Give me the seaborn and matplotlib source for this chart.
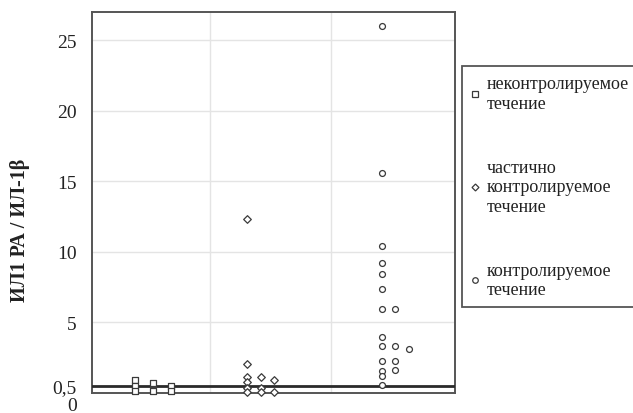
import matplotlib
matplotlib.use("Agg")
import matplotlib.pyplot as plt
import matplotlib.transforms as mtransforms
from matplotlib.lines import Line2D
import numpy as np
import pandas as pd
import seaborn as sns

# Course groups
groups = [
    "неконтролируемое\nтечение",
    "частично\nконтролируемое\nтечение",
    "контролируемое\nтечение",
]

# IL-1RA / IL-1beta ratios per group, split into side-by-side dot columns
uncontrolled_cols = [
    [0.92, 0.52, 0.17],
    [0.73, 0.17],
    [0.52, 0.17],
]
partial_cols = [
    [12.3, 2.05, 1.15, 0.75, 0.35, 0.05],
    [1.15, 0.35, 0.05],
    [0.92, 0.05],
]
controlled_cols = [
    [26.0, 15.6, 10.45, 9.2, 8.45, 7.35, 5.95, 3.95, 3.3, 2.25, 1.55, 1.2, 0.6],
    [5.95, 3.3, 2.25, 1.6],
    [3.1],
]

ytick_values = [0, 0.5, 5, 10, 15, 20, 25]
ytick_labels = ["0", "0,5", "5", "10", "15", "20", "25"]
threshold = 0.5

# layout
group_starts = [0.355, 1.285, 2.395]
group_steps = [0.149, 0.108, 0.111]
group_markers = {groups[0]: "s", groups[1]: "D", groups[2]: "o"}
group_sizes = {groups[0]: 20, groups[1]: 15, groups[2]: 18}

rows = []
for g, cols in zip(groups, [uncontrolled_cols, partial_cols, controlled_cols]):
    for ci, vals in enumerate(cols):
        for v in vals:
            rows.append({"group": g, "col": ci, "value": v})
df = pd.DataFrame(rows)
df["x"] = (df["group"].map(dict(zip(groups, group_starts)))
           + df["col"] * df["group"].map(dict(zip(groups, group_steps))))

sns.set_theme(style="white")
plt.rcParams["font.family"] = ["Liberation Serif", "DejaVu Serif"]

fig = plt.figure(figsize=(6.33, 4.14), dpi=100)
ax = fig.add_axes([92 / 633, 1 - 394 / 414, (455 - 92) / 633, (394 - 13) / 414])

ax.set_xlim(0, 3)
ax.set_ylim(0, 27)

edge = "#3a3a3a"
for g in groups:
    sub = df[df["group"] == g]
    sns.scatterplot(
        data=sub, x="x", y="value", marker=group_markers[g], s=group_sizes[g],
        facecolor="white", edgecolor=edge, linewidth=0.9, ax=ax, legend=False,
        zorder=4, clip_on=False,
    )

ax.axhline(threshold, color="#2a2a2a", lw=2.0, zorder=3)

# grid
ax.set_xticks([0.975, 1.975])
ax.set_xticklabels([])
ax.set_yticks(ytick_values)
ax.set_yticklabels(ytick_labels, fontsize=14)
ax.grid(True, color="#e4e4e4", lw=1.0)
ax.set_axisbelow(True)
ax.tick_params(axis="x", length=0)
ax.tick_params(axis="y", length=7, width=1, color="#9a9a9a", pad=4, labelcolor="#222222")
for val, t in zip(ytick_values, ax.yaxis.get_major_ticks()):
    if val != threshold:
        t.tick1line.set_visible(False)

# push the zero label below the baseline
zero_lbl = ax.yaxis.get_major_ticks()[0].label1
zero_lbl.set_transform(zero_lbl.get_transform()
                       + mtransforms.ScaledTranslation(0, -11 / 100, fig.dpi_scale_trans))

for s in ax.spines.values():
    s.set_color("#555555")
    s.set_linewidth(1.4)

ax.set_xlabel("")
ax.set_ylabel("ИЛ1 РА / ИЛ-1β", fontsize=14.5, fontweight="bold", color="#222222")
ax.yaxis.set_label_coords(-0.17, 0.43)

handles = [
    Line2D([], [], ls="none", marker=group_markers[g], markersize=ms,
           markerfacecolor="white", markeredgecolor=edge, markeredgewidth=0.9)
    for g, ms in zip(groups, [4, 3.5, 4])
]
leg = fig.legend(
    handles, groups, loc="upper left",
    bbox_to_anchor=(462 / 633, 1 - 67 / 414), bbox_transform=fig.transFigure,
    borderaxespad=0, frameon=True, fancybox=False, framealpha=1,
    edgecolor="#555555", fontsize=13, labelspacing=2.6, handlelength=0.45,
    handletextpad=0.4, borderpad=0.5,
)
leg.get_frame().set_linewidth(1.3)
for t in leg.get_texts():
    t.set_color("#222222")

fig.savefig("out.png", dpi=100)
